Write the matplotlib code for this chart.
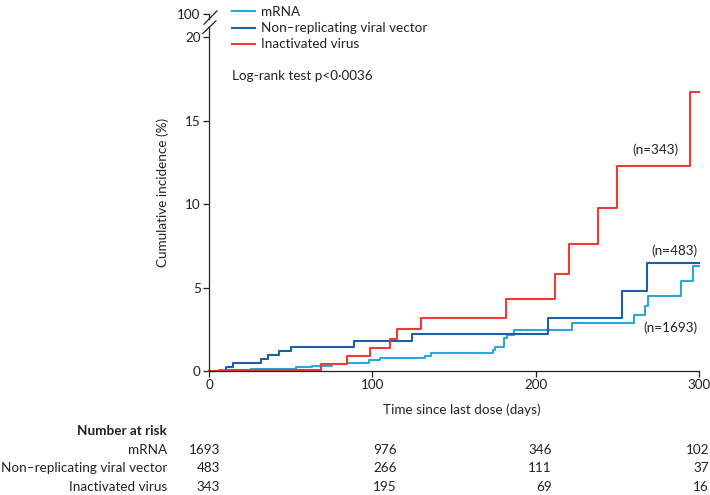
import matplotlib
matplotlib.use('Agg')
import matplotlib.pyplot as plt

plt.rcParams['font.family'] = ['Lato', 'DejaVu Sans']

# ── Data ────────────────────────────────────────────────────────────
mrna_t = [0, 6.1, 25.5, 53.1, 63.3, 75.5, 84.7, 98, 104.5, 132, 136, 174,
          175.4, 180.9, 182.5, 186.5, 222, 260.3, 266.8, 269, 289.2, 296.3, 300]
mrna_y = [0, 0.06, 0.14, 0.22, 0.32, 0.40, 0.48, 0.66, 0.80, 0.92, 1.08, 1.24,
          1.45, 1.95, 2.15, 2.48, 2.86, 3.35, 3.89, 4.49, 5.39, 6.31, 6.31]

vec_t = [0, 10.5, 14.7, 31.7, 36, 42.9, 50, 88.8, 124, 207.3, 253.1, 268.2, 300]
vec_y = [0, 0.22, 0.48, 0.72, 0.93, 1.18, 1.45, 1.80, 2.24, 3.15, 4.77, 6.50, 6.50]

ina_t = [0, 12, 68.4, 84.3, 98.7, 111, 114.8, 129.8, 181.9, 212, 220.2,
         238.3, 250.1, 294.3, 300]
ina_y = [0, 0.04, 0.44, 0.88, 1.38, 1.93, 2.5, 3.16, 4.3, 5.83, 7.6,
         9.78, 12.28, 16.73, 16.73]

groups = ['mRNA', 'Non\u2013replicating viral vector', 'Inactivated virus']
colors = ['#2aa8d8', '#1c5ea8', '#ef3a36']
n_labels = ['(n=1693)', '(n=483)', '(n=343)']

risk_days = [0, 100, 200, 300]
risk = [[1693, 976, 346, 102],
        [483, 266, 111, 37],
        [343, 195, 69, 16]]

FS = 9.7
INK = '#222222'

# ── Figure ──────────────────────────────────────────────────────────
fig = plt.figure(figsize=(7.1, 4.95), dpi=100)
ax = fig.add_axes([209 / 710, 1 - 371 / 495, 490 / 710, (371 - 14) / 495])

ytop = 21.4
for t, y, c, g in zip([mrna_t, vec_t, ina_t], [mrna_y, vec_y, ina_y], colors, groups):
    ax.step(t, y, where='post', color=c, lw=1.5, label=g, clip_on=False)

ax.set_xlim(0, 300)
ax.set_ylim(0, ytop)
ax.set_xticks([0, 100, 200, 300])
ax.set_yticks([0, 5, 10, 15, 20, ytop])
ax.set_yticklabels(['0', '5', '10', '15', '20', '100'])
ax.tick_params(direction='out', length=4, width=0.9, labelsize=FS,
               colors=INK, pad=2)
for s in ['top', 'right']:
    ax.spines[s].set_visible(False)
for s in ['left', 'bottom']:
    ax.spines[s].set_linewidth(0.9)
    ax.spines[s].set_color(INK)

# axis break between 20 and 100
ax.spines['left'].set_bounds(0, 20.6)
ax.plot([0, 0], [21.1, ytop], color=INK, lw=0.9, clip_on=False)
ax.plot([-3.05, 4.9], [20.79, 21.59], color=INK, lw=0.9, clip_on=False)
ax.plot([-3.85, 4.28], [20.23, 20.99], color=INK, lw=0.9, clip_on=False)

ax.set_ylabel('Cumulative incidence (%)', fontsize=FS, color=INK, labelpad=6)
ax.set_xlabel('Time since last dose (days)', fontsize=FS, color=INK)
ax.xaxis.set_label_coords((462 - 209) / 490, (371 - 403) / 357)

leg = ax.legend(loc='upper left', bbox_to_anchor=(0.035, 1.037), frameon=False,
                fontsize=FS, handlelength=1.75, handletextpad=0.4,
                labelspacing=0.3, borderaxespad=0)
for txt in leg.get_texts():
    txt.set_color(INK)

ax.text(14, 17.7, 'Log-rank test p<0\u00b70036', fontsize=FS, color=INK,
        va='center')

# n= labels near line ends
ax.text(287.2, 13.24, n_labels[2], fontsize=FS, ha='right', va='center', color=INK)
ax.text(299, 7.2, n_labels[1], fontsize=FS, ha='right', va='center', color=INK)
ax.text(299, 2.6, n_labels[0], fontsize=FS, ha='right', va='center', color=INK)

# ── Number at risk table ────────────────────────────────────────────
col_px = [220, 397, 552, 709]   # right edges of the number columns, pixels
row_y = [450, 468, 487]
lab_px = 167
fig.text(lab_px / 710, 1 - 431 / 495, 'Number at risk', fontsize=FS,
         fontweight='bold', ha='right', va='center', color=INK)
for i, g in enumerate(groups):
    yf = 1 - row_y[i] / 495
    fig.text(lab_px / 710, yf, g, fontsize=FS, ha='right', va='center', color=INK)
    for j, d in enumerate(risk_days):
        fig.text(col_px[j] / 710, yf, str(risk[i][j]), fontsize=FS,
                 ha='right', va='center', color=INK)

fig.savefig('out.png', dpi=100)
